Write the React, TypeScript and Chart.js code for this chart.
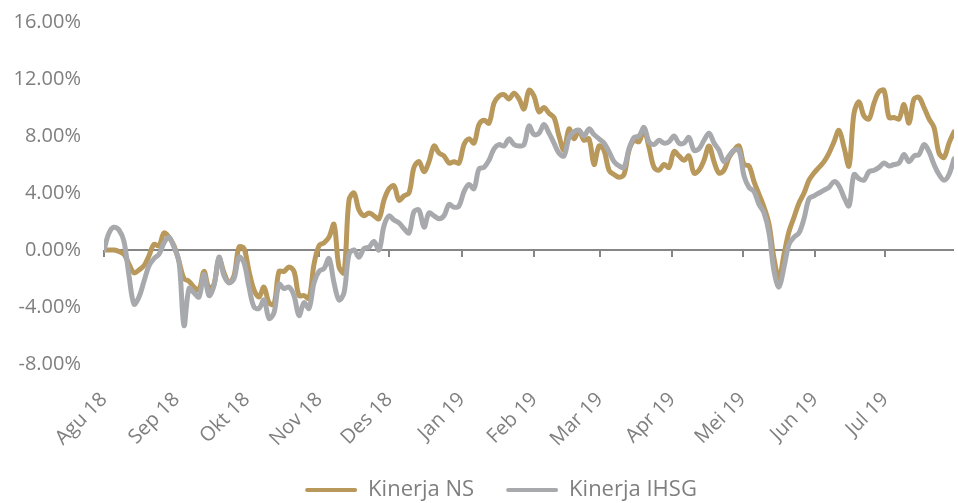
import React, { useEffect, useRef } from "react";
import { Chart, registerables } from "chart.js";

Chart.register(...registerables);

// ---- data ----
const monthLabels = ["Agu 18", "Sep 18", "Okt 18", "Nov 18", "Des 18", "Jan 19", "Feb 19", "Mar 19", "Apr 19", "Mei 19", "Jun 19", "Jul 19"];
const monthStartDays = [0, 31, 61, 92, 122, 153, 184, 212, 243, 273, 304, 334];
const yTickValues = [-8, -4, 0, 4, 8, 12, 16];
const STEP_DAYS = 2.1377; // calendar days between samples
const X_MAX_DAYS = 363.4;

const nsValues = [
  0.0, 0.0, 0.0, -0.1, -0.3, -1.0, -1.6, -1.4, -1.1, -0.4,
  0.4, 0.3, 1.2, 0.9, 0.3, -0.8, -2.0, -2.2, -2.6, -2.8,
  -1.5, -2.7, -2.4, -0.6, -1.6, -2.3, -1.8, 0.2, 0.1, -1.5,
  -2.8, -3.3, -2.6, -3.7, -3.8, -1.5, -1.5, -1.2, -1.5, -3.2,
  -3.2, -3.4, -1.0, 0.3, 0.5, 0.9, 1.8, -1.2, -1.6, 3.5,
  4.0, 2.8, 2.4, 2.6, 2.4, 2.2, 3.5, 4.3, 4.5, 3.5,
  3.8, 4.0, 5.8, 6.2, 5.5, 6.2, 7.3, 6.8, 6.6, 6.1,
  6.2, 6.1, 7.4, 7.8, 7.5, 8.8, 9.1, 8.9, 10.3, 10.8,
  10.9, 10.6, 11.0, 10.6, 9.9, 11.2, 10.8, 9.7, 10.0, 9.6,
  9.3, 8.0, 7.0, 8.5, 7.8, 8.4, 7.7, 7.8, 6.0, 7.3,
  7.0, 5.6, 5.3, 5.1, 5.3, 7.0, 7.7, 7.6, 8.4, 7.2,
  5.8, 5.6, 6.0, 5.8, 6.9, 6.6, 6.3, 6.6, 5.4, 5.6,
  6.3, 7.3, 6.2, 5.4, 5.6, 6.5, 7.0, 7.3, 6.0, 5.9,
  4.8, 3.9, 3.0, 1.8, -0.6, -2.0, -0.3, 1.3, 2.3, 3.3,
  4.0, 4.9, 5.4, 5.8, 6.2, 6.8, 7.6, 8.4, 7.2, 5.9,
  9.6, 10.4, 9.4, 9.2, 10.3, 11.1, 11.2, 9.3, 9.3, 9.2,
  10.2, 8.9, 10.6, 10.7, 10.0, 9.2, 8.6, 6.8, 6.5, 7.5,
  8.3,
];

const ihsgValues = [
  0.0, 1.2, 1.6, 1.4, 0.6, -1.8, -3.8, -3.3, -2.2, -1.1,
  -0.6, -0.3, 0.5, 0.9, 0.2, -0.8, -5.3, -2.7, -3.0, -3.3,
  -1.7, -3.2, -2.5, -0.5, -1.8, -2.3, -2.0, -0.5, -0.9, -2.6,
  -4.0, -4.1, -3.5, -4.8, -4.4, -2.4, -2.7, -2.6, -3.2, -4.6,
  -3.7, -4.1, -2.3, -1.5, -1.3, -0.6, -2.3, -3.5, -3.0, -0.3,
  0.0, -0.5, 0.1, 0.2, 0.6, 0.0, 1.7, 2.4, 2.1, 1.9,
  1.5, 1.2, 2.7, 2.8, 1.6, 2.6, 2.4, 2.2, 2.4, 3.2,
  3.0, 3.1, 4.1, 4.6, 4.3, 5.7, 5.8, 6.3, 7.1, 7.4,
  7.3, 7.8, 7.4, 7.3, 7.4, 8.7, 8.1, 8.2, 8.8, 8.2,
  7.5, 6.8, 6.6, 7.9, 8.3, 8.4, 8.0, 8.5, 8.1, 7.8,
  7.5, 6.9, 6.2, 5.9, 5.8, 7.1, 7.9, 8.0, 8.6, 7.6,
  7.4, 7.7, 7.5, 7.6, 8.0, 7.5, 7.5, 7.9, 7.0, 7.1,
  7.7, 8.2, 7.5, 7.0, 6.2, 6.6, 7.0, 7.0, 5.2, 4.4,
  4.1, 3.2, 2.6, 1.2, -1.5, -2.6, -1.2, 0.4, 0.9, 1.2,
  2.2, 3.6, 3.8, 4.0, 4.2, 4.4, 4.8, 4.5, 3.7, 3.1,
  5.3, 5.0, 4.9, 5.5, 5.6, 5.8, 6.1, 5.9, 6.0, 6.1,
  6.7, 6.2, 6.6, 6.7, 7.4, 6.9, 6.0, 5.3, 4.9, 5.3,
  6.4,
];

const seriesNames = ["Kinerja NS", "Kinerja IHSG"];

// ---- style ----
const GOLD = "#B9985B";
const GRAY = "#A7A9AC";
const TEXT = "#7F7F7F";
const FONT = "'Open Sans', 'DejaVu Sans', sans-serif";
const LEGEND_H = 56;
const LEGEND_SHIFT = 24;

const toPoints = (vals: number[]) => vals.map((v, i) => ({ x: i * STEP_DAYS, y: v }));

const zeroLinePlugin = {
  id: "zeroLine",
  beforeDatasetsDraw(chart: any) {
    const { ctx, chartArea, scales } = chart;
    const x = scales.x;
    const y = scales.y;
    const y0 = Math.round(y.getPixelForValue(0));
    ctx.save();
    ctx.strokeStyle = "#868686";
    ctx.lineWidth = 2;
    ctx.beginPath();
    ctx.moveTo(chartArea.left, y0);
    ctx.lineTo(chartArea.right, y0);
    monthStartDays.forEach((d) => {
      const px = Math.round(x.getPixelForValue(d));
      ctx.moveTo(px, y0);
      ctx.lineTo(px, y0 + 7);
    });
    ctx.stroke();
    ctx.restore();
  },
};

const legendPatchPlugin = {
  id: "legendPatch",
  beforeUpdate(chart: any) {
    const lg = chart.legend;
    if (lg && !lg.__patched) {
      const origFit = lg.fit;
      lg.fit = function () {
        origFit.call(this);
        this.height = LEGEND_H;
      };
      const origDraw = lg.draw;
      lg.draw = function (...args: any[]) {
        const c = this.ctx;
        c.save();
        c.translate(LEGEND_SHIFT, 0);
        origDraw.apply(this, args);
        c.restore();
      };
      lg.__patched = true;
    }
  },
};

export default function App() {
  const canvasRef = useRef<HTMLCanvasElement | null>(null);

  useEffect(() => {
    document.body.style.margin = "0";
    const canvas = canvasRef.current;
    if (!canvas) return;
    const chart = new Chart(canvas, {
      type: "line",
      data: {
        datasets: [
          {
            label: seriesNames[0],
            data: toPoints(nsValues),
            borderColor: GOLD,
            backgroundColor: GOLD,
            borderWidth: 5,
            pointRadius: 0,
            tension: 0.35,
            borderCapStyle: "round",
            borderJoinStyle: "round",
            order: 1,
          },
          {
            label: seriesNames[1],
            data: toPoints(ihsgValues),
            borderColor: GRAY,
            backgroundColor: GRAY,
            borderWidth: 5,
            pointRadius: 0,
            tension: 0.35,
            borderCapStyle: "round",
            borderJoinStyle: "round",
            order: 0,
          },
        ],
      },
      options: {
        animation: false,
        responsive: true,
        maintainAspectRatio: false,
        layout: { padding: { top: 22, right: 4, left: 0, bottom: 0 } },
        font: { family: FONT },
        scales: {
          x: {
            type: "linear",
            min: 0,
            max: X_MAX_DAYS,
            afterBuildTicks: (s: any) => {
              s.ticks = monthStartDays.map((v) => ({ value: v }));
            },
            afterFit: (s: any) => {
              s.height = 503 - LEGEND_H - 364;
              s.paddingLeft = 0;
              s.paddingRight = 0;
            },
            grid: { display: false, drawTicks: false },
            border: { display: false },
            ticks: {
              autoSkip: false,
              minRotation: 45,
              maxRotation: 45,
              padding: 24,
              labelOffset: 0,
              color: TEXT,
              font: { family: FONT, size: 20 },
              callback: (_v: any, i: number) => monthLabels[i] ?? "",
            },
          },
          y: {
            type: "linear",
            min: -8,
            max: 16,
            afterBuildTicks: (s: any) => {
              s.ticks = yTickValues.map((v) => ({ value: v }));
            },
            afterFit: (s: any) => {
              s.width = 104;
              s.paddingTop = 0;
              s.paddingBottom = 0;
            },
            grid: { display: false, drawTicks: false },
            border: { display: false },
            ticks: {
              padding: 23,
              color: TEXT,
              font: { family: FONT, size: 20 },
              callback: (v: any) => Number(v).toFixed(2) + "%",
            },
          },
        },
        plugins: {
          tooltip: { enabled: false },
          legend: {
            position: "bottom",
            labels: {
              boxWidth: 52,
              boxHeight: 4,
              padding: 32,
              color: TEXT,
              font: { family: FONT, size: 22 },
              sort: (a: any, b: any) => a.datasetIndex - b.datasetIndex,
              generateLabels: (chart: any) =>
                chart.data.datasets.map((ds: any, i: number) => ({
                  text: ds.label,
                  fillStyle: ds.borderColor,
                  strokeStyle: ds.borderColor,
                  lineWidth: 0,
                  borderRadius: 2,
                  hidden: false,
                  datasetIndex: i,
                  fontColor: TEXT,
                })),
            },
          },
        },
      } as any,
      plugins: [zeroLinePlugin, legendPatchPlugin],
    });
    return () => chart.destroy();
  }, []);

  return (
    <div style={{ position: "relative", width: 958, height: 503 }}>
      <canvas ref={canvasRef} />
    </div>
  );
}
